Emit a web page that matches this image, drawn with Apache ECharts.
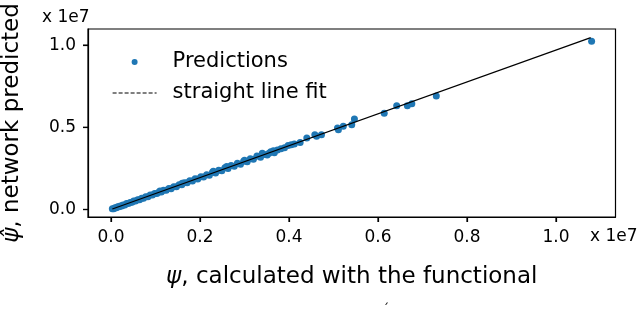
<!DOCTYPE html>
<html>
<head>
<meta charset="utf-8">
<script src="https://cdn.jsdelivr.net/npm/echarts@6/dist/echarts.min.js"></script>
<style>html,body{margin:0;padding:0;background:#fff}#c{width:640px;height:313px}</style>
</head>
<body>
<div id="c"></div>
<script>
// values in units of 1e7
const predX = [0.003,0.006,0.009,0.012,0.015,0.018,0.021,0.024,0.027,0.031,0.035,0.039,0.043,0.047,0.051,0.055,0.060,0.064,0.069,0.073,0.078,0.083,0.088,0.093,0.098,0.103,0.108,0.113,0.118,0.124,0.130,0.135,0.141,0.147,0.153,0.159,0.165,0.171,0.177,0.183,0.189,0.195,0.202,0.208,0.215,0.221,0.228,0.235,0.242,0.249,0.256,0.263,0.270,0.277,0.284,0.291,0.298,0.306,0.313,0.320,0.328,0.336,0.344,0.351,0.359,0.367,0.374,0.382,0.390,0.398,0.405,0.412,
  0.110,0.160,0.230,0.260,0.300,0.340,0.355,0.365,
  0.425,0.440,0.458,0.462,0.473,0.509,0.511,0.522,0.541,0.547,0.614,0.642,0.666,0.676,0.731,1.080];
const predY = [0.004,0.005,0.010,0.010,0.016,0.016,0.022,0.021,0.028,0.028,0.036,0.036,0.043,0.044,0.052,0.051,0.060,0.060,0.069,0.069,0.078,0.078,0.088,0.088,0.097,0.098,0.107,0.106,0.117,0.117,0.128,0.127,0.139,0.139,0.150,0.150,0.163,0.162,0.175,0.173,0.187,0.185,0.199,0.197,0.212,0.209,0.226,0.222,0.239,0.236,0.254,0.249,0.268,0.263,0.282,0.276,0.294,0.290,0.308,0.305,0.325,0.318,0.335,0.332,0.351,0.345,0.362,0.370,0.376,0.390,0.394,0.399,
  0.113,0.160,0.232,0.262,0.300,0.342,0.342,0.358,
  0.408,0.435,0.455,0.445,0.455,0.496,0.485,0.506,0.515,0.550,0.586,0.631,0.631,0.643,0.690,1.023];
const fitX = [0.003, 1.078];
const fitY = [0.003, 1.045];
const xTicks = [0, 0.2, 0.4, 0.6, 0.8, 1.0];
const yTicks = [0, 0.5, 1.0];
const seriesNames = ['Predictions', 'straight line fit'];

const FONT = 'DejaVu Sans';
const X_MIN = -0.0517, X_MAX = 1.1337, Y_MIN = -0.0456, Y_MAX = 1.098;
const chart = echarts.init(document.getElementById('c'), null, {renderer: 'canvas'});
const scatterData = predX.map((x, i) => [x, predY[i]]);
const fitData = fitX.map((x, i) => [x, fitY[i]]);
const off = () => ({show: false});

const baseGraphic = [
  {type: 'text', left: 42, top: 9, style: {text: 'x 1e7', font: '17px "DejaVu Sans"', fill: '#000'}},
  {type: 'text', left: 590, top: 228, style: {text: 'x 1e7', font: '17px "DejaVu Sans"', fill: '#000'}},
  {type: 'text', left: 383, top: 304, style: {text: '\u02CA', font: '12px "DejaVu Sans"', fill: '#000'}}
];

chart.setOption({
  animation: false,
  backgroundColor: '#fff',
  textStyle: {fontFamily: FONT, color: '#000'},
  grid: {left: 88, right: 24.5, top: 29, bottom: 96, containLabel: false, outerBoundsMode: 'none',
         show: true, borderColor: '#000', borderWidth: 1.2, backgroundColor: 'transparent'},
  legend: {
    orient: 'vertical', left: 107, top: 45, itemWidth: 44, itemHeight: 6, itemGap: 7,
    textStyle: {fontFamily: FONT, fontSize: 21, color: '#000', lineHeight: 24, padding: [0, 0, 0, 11]},
    data: [
      {name: seriesNames[0], icon: 'circle'},
      {name: seriesNames[1], itemStyle: {opacity: 0}, lineStyle: {type: [4, 2], width: 1.2, color: '#000'}}
    ]
  },
  xAxis: {
    type: 'value', min: X_MIN, max: X_MAX,
    name: '{i|ψ}, calculated with the functional', nameLocation: 'middle', nameGap: 49,
    nameTextStyle: {fontFamily: FONT, fontSize: 23, color: '#000', rich: {i: {fontFamily: FONT, fontSize: 23, fontStyle: 'italic', color: '#000'}}},
    axisLine: {show: true, onZero: false, lineStyle: {color: '#000', width: 1.2}}, splitLine: off(),
    axisTick: {show: true, inside: false, length: 5, customValues: xTicks, lineStyle: {color: '#000', width: 1.2}},
    axisLabel: {fontFamily: FONT, fontSize: 17, color: '#000', margin: 12, customValues: xTicks, formatter: v => v.toFixed(1)}
  },
  yAxis: {
    type: 'value', min: Y_MIN, max: Y_MAX,
    name: '{i|ψ̂}, network predicted', nameLocation: 'middle', nameGap: 64,
    nameTextStyle: {fontFamily: FONT, fontSize: 23, color: '#000', rich: {i: {fontFamily: FONT, fontSize: 23, fontStyle: 'italic', color: '#000'}}},
    axisLine: {show: true, onZero: false, lineStyle: {color: '#000', width: 1.2}}, splitLine: off(),
    axisTick: {show: true, inside: false, length: 5, customValues: yTicks, lineStyle: {color: '#000', width: 1.2}},
    axisLabel: {fontFamily: FONT, fontSize: 17, color: '#000', margin: 12, customValues: yTicks, formatter: v => v.toFixed(1)}
  },
  graphic: baseGraphic,
  series: [
    {name: seriesNames[0], type: 'scatter', data: scatterData, symbol: 'circle', symbolSize: 7, itemStyle: {color: '#1f77b4', opacity: 1}, z: 2},
    {name: seriesNames[1], type: 'line', data: fitData, symbol: 'none', lineStyle: {color: '#000', width: 1.3}, z: 3}
  ]
});

// Tick marks placed through the chart's own scales (convertToPixel)
const TICK = 5;
const tickGraphic = [];
xTicks.forEach(v => {
  const p = chart.convertToPixel({gridIndex: 0}, [v, Y_MIN]);
  tickGraphic.push({type: 'line', shape: {x1: p[0], y1: p[1], x2: p[0], y2: p[1] + TICK}, style: {stroke: '#000', lineWidth: 1.2}, z: 100});
});
yTicks.forEach(v => {
  const p = chart.convertToPixel({gridIndex: 0}, [X_MIN, v]);
  tickGraphic.push({type: 'line', shape: {x1: p[0] - TICK, y1: p[1], x2: p[0], y2: p[1]}, style: {stroke: '#000', lineWidth: 1.2}, z: 100});
});
chart.setOption({graphic: baseGraphic.concat(tickGraphic)});
</script>
</body>
</html>
